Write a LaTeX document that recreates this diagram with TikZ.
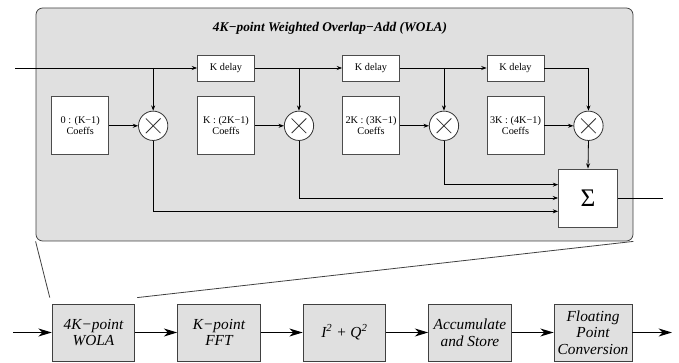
\documentclass[tikz,border=0pt]{standalone}
\usepackage{fontspec}
\setmainfont{Liberation Serif}
\usetikzlibrary{positioning, arrows.meta}
\tikzset{
small arrow/.style={-{Stealth[length=4pt, width=3pt]}, line width=0.6pt}, % thin arrows inside the WOLA box
big arrow/.style={-{Stealth[length=10pt, width=6pt, inset=3pt]}, line width=0.9pt}, % arrows of the lower chain
delaybox/.style={draw=black!70, fill=white, minimum width=42.75pt, minimum height=19.5pt, inner sep=0pt, font=\fontsize{7.7}{8.3}\selectfont},
coeffbox/.style={delaybox, minimum height=43.5pt, align=center},
mult/.style={draw=black!80, fill=white, circle, minimum size=22pt, inner sep=0pt,
  path picture={
    \draw[line width=0.6pt] ([shift={(-5.5pt,-5.5pt)}]path picture bounding box.center) -- ([shift={(5.5pt,5.5pt)}]path picture bounding box.center)
      ([shift={(-5.5pt,5.5pt)}]path picture bounding box.center) -- ([shift={(5.5pt,-5.5pt)}]path picture bounding box.center);
  }},
sumbox/.style={draw=black!70, fill=white, minimum width=44.25pt, minimum height=43.5pt, inner sep=0pt, font=\fontsize{19}{20}\selectfont},
stage/.style={draw=black!75, fill=black!12, minimum width=62pt, minimum height=42.75pt, inner sep=1pt, align=center, font=\fontsize{11.5}{12.5}\selectfont\itshape},
}
\begin{document}
\begin{tikzpicture}[x=0.75pt, y=-0.75pt, line width=0.6pt, node distance=31.5pt]
\useasboundingbox (0,0) rectangle (679,363);

% WOLA block
\node[draw=black!75, fill=black!12, rounded corners=5pt, minimum width=447.75pt, minimum height=174.75pt] (wola) at (334.5,124.5) {};
\node[font=\fontsize{10}{11}\selectfont\bfseries\itshape] (title) at (330,28) {4K−point Weighted Overlap−Add (WOLA)};

\coordinate (in) at (15,68);
\node[delaybox] (kd1) at (226,68) {K delay};
\node[delaybox] (kd2) at (371,68) {K delay};
\node[delaybox] (kd3) at (515.5,68) {K delay};

\node[coeffbox, below=11.25pt of kd1] (c2) {K : (2K−1)\\Coeffs};
\node[coeffbox, below=11.25pt of kd2] (c3) {2K : (3K−1)\\Coeffs};
\node[coeffbox, below=11.25pt of kd3] (c4) {3K : (4K−1)\\Coeffs};
\node[coeffbox, left=66pt of c2] (c1) {0 : (K−1)\\Coeffs};

\node[mult, right=21.75pt of c1] (m1) {};
\node[mult, right=21.75pt of c2] (m2) {};
\node[mult, right=21.75pt of c3] (m3) {};
\node[mult, right=21.75pt of c4] (m4) {};

\node[sumbox] (sum) at (588,198) {Σ};
\coordinate (out) at (663,198);

\draw[small arrow] (in) -- (kd1);
\draw[small arrow] (kd1) -- (kd2);
\draw[small arrow] (kd2) -- (kd3);
\draw[small arrow] (m1 |- kd1) -- (m1);
\draw[small arrow] (m2 |- kd1) -- (m2);
\draw[small arrow] (m3 |- kd2) -- (m3);
\draw[small arrow] (kd3.east) -| (m4.north);
\draw[small arrow] (c1) -- (m1);
\draw[small arrow] (c2) -- (m2);
\draw[small arrow] (c3) -- (m3);
\draw[small arrow] (c4) -- (m4);
\draw[small arrow] (m1.south) |- ([yshift=-10pt]sum.west);
\draw[small arrow] (m2.south) |- (sum.west);
\draw[small arrow] (m3.south) |- ([yshift=10pt]sum.west);
\draw[small arrow] (m4.south) -- (sum.north);
\draw (sum) -- (out);

% processing chain
\node[stage] (b1) at (93.5,332.5) {4K−point\\WOLA};
\node[stage, right=of b1] (b2) {K−point\\FFT};
\node[stage, right=of b2] (b3) {I\textsuperscript{2} + Q\textsuperscript{2}};
\node[stage, right=of b3] (b4) {Accumulate\\and Store};
\node[stage, right=of b4, minimum width=58.5pt] (b5) {Floating\\Point\\Conversion};
\coordinate (src) at (13,332.5);
\coordinate (sink) at (672,332.5);

\draw[big arrow] (src) -- (b1);
\draw[big arrow] (b1) -- (b2);
\draw[big arrow] (b2) -- (b3);
\draw[big arrow] (b3) -- (b4);
\draw[big arrow] (b4) -- (b5);
\draw[big arrow] (b5) -- (sink);

% zoom lines
\draw[black!75] (wola.south west) -- ([shift={(-1.5pt,4.5pt)}]b1.north west);
\draw[black!75] (wola.south east) -- ([shift={(1.5pt,4.5pt)}]b1.north east);
\end{tikzpicture}
\end{document}
